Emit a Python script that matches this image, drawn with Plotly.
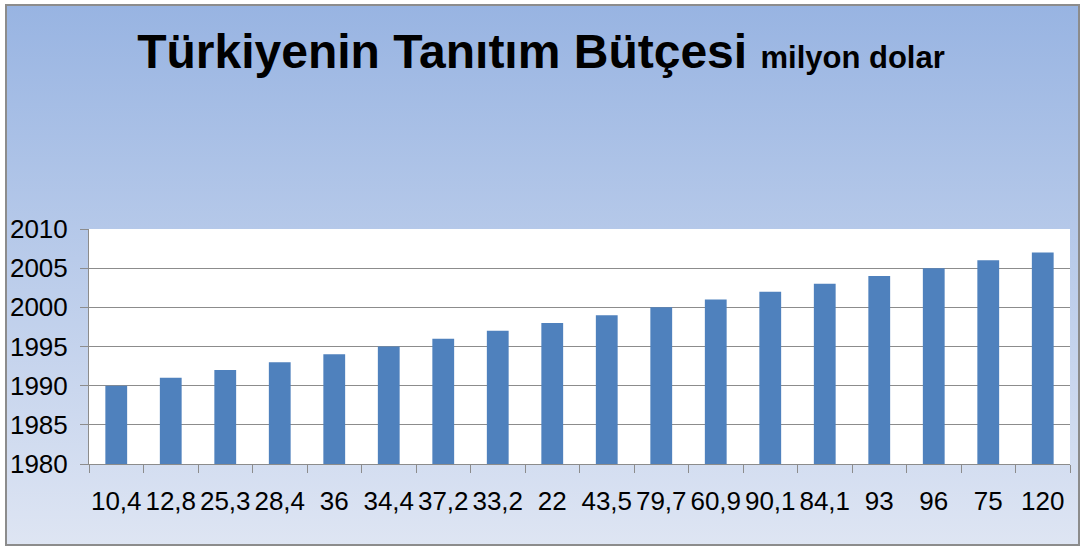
import base64
import plotly.graph_objects as go

categories = ["10,4", "12,8", "25,3", "28,4", "36", "34,4", "37,2", "33,2", "22",
              "43,5", "79,7", "60,9", "90,1", "84,1", "93", "96", "75", "120"]
years = [1990, 1991, 1992, 1993, 1994, 1995, 1996, 1997, 1998,
         1999, 2000, 2001, 2002, 2003, 2004, 2005, 2006, 2007]

W, H = 1082, 547
L, R, T, B = 89, 1070, 229, 464  # plot area pixels


def px_x(p):
    return (p - L) / (R - L)


def px_y(p):
    return (B - p) / (B - T)


svg = ('<svg xmlns="http://www.w3.org/2000/svg" width="100" height="100" preserveAspectRatio="none">'
       '<defs><linearGradient id="g" x1="0" y1="0" x2="0" y2="1">'
       '<stop offset="0" stop-color="#98B4E2"/><stop offset="1" stop-color="#DEE5F3"/>'
       '</linearGradient></defs><rect width="100" height="100" fill="url(#g)"/></svg>')
src = "data:image/svg+xml;base64," + base64.b64encode(svg.encode()).decode()

fx0, fx1, fy0, fy1 = 6, 1079, 5, 545

fig = go.Figure(go.Bar(x=categories, y=years, marker_color="#4F81BD",
                       marker_line_width=0))

fig.update_layout(
    width=W, height=H,
    margin=dict(l=L, r=W - R, t=T, b=H - B, pad=0),
    paper_bgcolor="white",
    plot_bgcolor="white",
    bargap=0.6,
    showlegend=False,
    font=dict(family="Liberation Sans, Arial, sans-serif", color="black"),
    title=dict(
        text="<b>Türkiyenin Tanıtım Bütçesi</b> <b><span style='font-size:31px'>milyon dolar</span></b>",
        x=0.5, xref="container", xanchor="center",
        y=1 - 51 / H, yref="container", yanchor="middle",
        font=dict(size=48, family="Liberation Sans, Arial, sans-serif", color="black"),
    ),
    images=[dict(source=src, xref="paper", yref="paper",
                 x=px_x(fx0), y=px_y(fy0),
                 sizex=px_x(fx1) - px_x(fx0), sizey=px_y(fy0) - px_y(fy1),
                 xanchor="left", yanchor="top", sizing="stretch", layer="below")],
    shapes=[
        dict(type="rect", xref="paper", yref="paper", x0=0, x1=1, y0=0, y1=1,
             fillcolor="white", line_width=0, layer="below"),
        dict(type="rect", xref="paper", yref="paper",
             x0=px_x(fx0), x1=px_x(fx1), y0=px_y(fy1), y1=px_y(fy0),
             line=dict(color="#8C8C8C", width=2), fillcolor="rgba(0,0,0,0)", layer="above"),
    ],
)

fig.update_xaxes(
    type="category", tickangle=0, tickson="boundaries",
    ticks="outside", ticklen=8, tickcolor="#8C8C8C", tickwidth=1,
    showline=True, linecolor="#8C8C8C", linewidth=1,
    showgrid=False, tickfont=dict(size=26), automargin=False,
    ticklabelstandoff=14,
)
fig.update_yaxes(
    range=[1980, 2010], dtick=5, tick0=1980,
    ticks="outside", ticklen=8, tickcolor="#8C8C8C", tickwidth=1,
    showline=True, linecolor="#8C8C8C", linewidth=1,
    showgrid=True, gridcolor="#8C8C8C", gridwidth=1,
    tickfont=dict(size=26), automargin=False, zeroline=False,
    ticklabelstandoff=7,
)

fig.write_html("out.html", config={"displayModeBar": False},
               post_script="document.body.style.margin='0';document.body.style.overflow='hidden';")
